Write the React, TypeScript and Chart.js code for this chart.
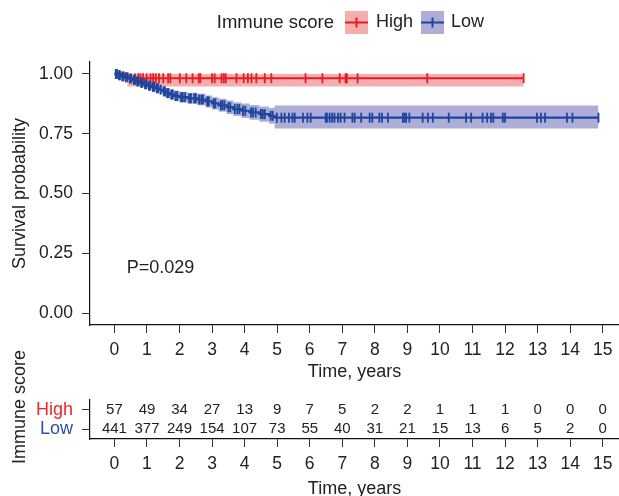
import React, { useEffect, useRef } from 'react';
import { Chart, registerables } from 'chart.js';
Chart.register(...registerables);

const FONT = '"Liberation Sans", Arial, Helvetica, sans-serif';
const TEXT = '#222222';
const RED = 'rgb(228,30,36)';
const BLUE = 'rgb(30,70,158)';
const RED_BAND = 'rgba(232,40,45,0.38)';
const BLUE_BAND = 'rgba(40,40,150,0.38)';
const RED_LABEL = 'rgb(232,38,44)';
const BLUE_LABEL = 'rgb(40,82,170)';

// ---- data ----
const timeTicks = [0, 1, 2, 3, 4, 5, 6, 7, 8, 9, 10, 11, 12, 13, 14, 15];
const survTicks = [0, 0.25, 0.5, 0.75, 1];
const groups = ['High', 'Low'];
const highRisk = [57, 49, 34, 27, 13, 9, 7, 5, 2, 2, 1, 1, 1, 0, 0, 0];
const lowRisk = [441, 377, 249, 154, 107, 73, 55, 40, 31, 21, 15, 13, 6, 5, 2, 0];

const highTimes = [0, 0.4, 12.57];
const highSurv = [1, 0.982, 0.982];
const highLower = [1, 0.948, 0.948];
const highUpper = [1, 1, 1];
const highCensor = [0.63, 0.73, 0.8, 0.88, 0.99, 1.11, 1.19, 1.27, 1.37, 1.5, 1.65, 1.72, 2.01, 2.21, 2.4, 2.59, 2.64, 3.0, 3.08, 3.29, 3.36, 3.42, 3.75, 3.97, 4.1, 4.21, 4.36, 4.62, 4.82, 5.87, 6.39, 6.92, 7.1, 7.14, 7.47, 9.61, 12.57];

const lowTimes = [0, 0.1, 0.2, 0.32, 0.45, 0.55, 0.66, 0.78, 0.9, 1.02, 1.14, 1.26, 1.38, 1.48, 1.58, 1.7, 1.84, 2.0, 2.25, 2.55, 2.8, 3.0, 3.2, 3.45, 3.65, 3.9, 4.15, 4.45, 4.75, 4.92, 14.87];
const lowSurv = [1, 0.995, 0.99, 0.986, 0.981, 0.975, 0.969, 0.963, 0.957, 0.951, 0.946, 0.94, 0.934, 0.927, 0.92, 0.914, 0.908, 0.903, 0.898, 0.893, 0.885, 0.877, 0.869, 0.861, 0.853, 0.846, 0.839, 0.832, 0.825, 0.817, 0.817];
const lowLower = [1, 0.99, 0.984, 0.977, 0.971, 0.964, 0.957, 0.95, 0.943, 0.936, 0.93, 0.923, 0.916, 0.908, 0.9, 0.893, 0.886, 0.881, 0.875, 0.869, 0.86, 0.851, 0.842, 0.833, 0.824, 0.816, 0.808, 0.8, 0.792, 0.772, 0.772];
const lowUpper = [1, 1, 0.998, 0.995, 0.991, 0.986, 0.981, 0.976, 0.971, 0.966, 0.962, 0.957, 0.952, 0.946, 0.94, 0.935, 0.93, 0.926, 0.921, 0.917, 0.91, 0.903, 0.896, 0.889, 0.882, 0.876, 0.87, 0.864, 0.858, 0.868, 0.868];
const lowCensor = [0.04, 0.08, 0.14, 0.17, 0.24, 0.28, 0.35, 0.4, 0.48, 0.52, 0.6, 0.63, 0.7, 0.74, 0.82, 0.86, 0.94, 0.98, 1.06, 1.1, 1.18, 1.22, 1.3, 1.34, 1.42, 1.52, 1.55, 1.62, 1.66, 1.75, 1.79, 1.88, 1.93, 2.05, 2.1, 2.17, 2.3, 2.35, 2.45, 2.5, 2.6, 2.67, 2.72, 2.85, 2.9, 3.05, 3.1, 3.27, 3.32, 3.38, 3.5, 3.56, 3.7, 3.78, 3.84, 3.95, 4.02, 4.2, 4.26, 4.34, 4.5, 4.56, 4.62, 4.8, 4.86, 4.99, 5.13, 5.23, 5.36, 5.47, 5.54, 5.79, 5.93, 6.03, 6.49, 6.53, 6.61, 6.69, 6.76, 6.87, 6.95, 7.07, 7.31, 7.38, 7.58, 7.84, 7.92, 8.14, 8.22, 8.4, 8.86, 8.91, 8.96, 9.06, 9.47, 9.63, 9.78, 10.27, 10.8, 10.96, 11.31, 11.45, 11.57, 11.64, 11.93, 12.0, 12.98, 13.1, 13.23, 13.9, 14.07, 14.87];

const pValueText = 'P=0.029';
const legendTitle = 'Immune score';
const xTitle = 'Time, years';
const yTitle = 'Survival probability';

// ---- helpers ----
const pts = (xs: number[], ys: number[]) => xs.map((x, i) => ({ x, y: ys[i] }));
const survAt = (times: number[], surv: number[], t: number) => {
  let v = surv[0];
  for (let i = 0; i < times.length; i++) if (times[i] <= t) v = surv[i];
  return v;
};
const censorPts = (c: number[], times: number[], surv: number[]) => c.map((t) => ({ x: t, y: survAt(times, surv, t) }));

const X_MIN = -0.75;
const X_MAX = 15.5;

const xScaleBase = (height: number, titlePadBottom: number) => ({
  type: 'linear',
  min: X_MIN,
  max: X_MAX,
  afterBuildTicks: (s: any) => { s.ticks = timeTicks.map((v) => ({ value: v })); },
  afterFit: (s: any) => { s.height = height; s.paddingLeft = 0; s.paddingRight = 0; },
  ticks: { autoSkip: false, maxRotation: 0, padding: 7, color: TEXT, font: { family: FONT, size: 17.5 }, callback: (v: any) => String(v) },
  grid: { drawOnChartArea: false, drawTicks: true, tickLength: 8, color: '#333', tickColor: '#333', lineWidth: 1 },
  border: { display: true, color: '#111', width: 1.2 },
  title: { display: true, text: xTitle, color: TEXT, font: { family: FONT, size: 18 }, padding: { top: 0, bottom: titlePadBottom } },
});

const legendPlugin = {
  id: 'kmLegend',
  afterDraw(chart: any) {
    const ctx = chart.ctx;
    ctx.save();
    ctx.textBaseline = 'middle';
    const cy = 22.5;
    ctx.font = `18.5px ${FONT}`;
    ctx.fillStyle = TEXT;
    ctx.textAlign = 'right';
    ctx.fillText(legendTitle, 334, cy);
    ctx.textAlign = 'left';
    ctx.font = `18px ${FONT}`;
    const items = [
      { label: groups[0], band: RED_BAND, line: RED, bx: 345, tx: 376 },
      { label: groups[1], band: BLUE_BAND, line: BLUE, bx: 421, tx: 451 },
    ];
    for (const it of items) {
      ctx.fillStyle = it.band;
      ctx.fillRect(it.bx, 11, 23, 23);
      ctx.strokeStyle = it.line;
      ctx.lineWidth = 2;
      ctx.beginPath();
      ctx.moveTo(it.bx, cy);
      ctx.lineTo(it.bx + 23, cy);
      ctx.moveTo(it.bx + 11.5, cy - 5);
      ctx.lineTo(it.bx + 11.5, cy + 5);
      ctx.stroke();
      ctx.fillStyle = TEXT;
      ctx.fillText(it.label, it.tx, cy);
    }
    // p-value
    const xs = chart.scales.x, ys = chart.scales.y;
    ctx.font = `18px ${FONT}`;
    ctx.fillText(pValueText, xs.getPixelForValue(0.38), ys.getPixelForValue(0.19));
    ctx.restore();
  },
};

const tablePlugin = {
  id: 'riskTable',
  afterDraw(chart: any) {
    const ctx = chart.ctx;
    const xs = chart.scales.x, ys = chart.scales.y;
    ctx.save();
    ctx.font = `15px ${FONT}`;
    ctx.fillStyle = TEXT;
    ctx.textAlign = 'center';
    ctx.textBaseline = 'middle';
    const rows = [highRisk, lowRisk];
    rows.forEach((row, r) => {
      const y = ys.getPixelForValue(r);
      row.forEach((n, i) => ctx.fillText(String(n), xs.getPixelForValue(timeTicks[i]), y));
    });
    ctx.translate(20, 77);
    ctx.rotate(-Math.PI / 2);
    ctx.font = `18px ${FONT}`;
    ctx.fillText(legendTitle, 0, 0);
    ctx.restore();
  },
};

export default function App() {
  const mainRef = useRef<HTMLCanvasElement>(null);
  const tableRef = useRef<HTMLCanvasElement>(null);

  useEffect(() => {
    const line = (data: any, color: string, order: number) => ({
      data, borderColor: color, borderWidth: 2.2, pointRadius: 0, stepped: 'before', fill: false, order,
    });
    const censor = (data: any, color: string, order: number) => ({
      data, borderColor: color, backgroundColor: color, showLine: false, pointStyle: 'line', rotation: 90,
      pointRadius: 5, pointBorderWidth: 1.8, pointHoverRadius: 5, order,
    });
    const band = (data: any, color: string, fillTarget: any, order: number) => ({
      data, borderWidth: 0, borderColor: 'rgba(0,0,0,0)', backgroundColor: color, pointRadius: 0, stepped: 'before', fill: fillTarget, order,
    });

    const main = new Chart(mainRef.current!, {
      type: 'line',
      data: {
        datasets: [
          censor(censorPts(lowCensor, lowTimes, lowSurv), BLUE, 0),
          line(pts(lowTimes, lowSurv), BLUE, 1),
          censor(censorPts(highCensor, highTimes, highSurv), RED, 2),
          line(pts(highTimes, highSurv), RED, 3),
          band(pts(lowTimes, lowUpper), BLUE_BAND, 5, 4),
          band(pts(lowTimes, lowLower), BLUE_BAND, false, 5),
          band(pts(highTimes, highUpper), RED_BAND, 7, 6),
          band(pts(highTimes, highLower), RED_BAND, false, 7),
        ] as any,
      },
      options: {
        responsive: false,
        animation: false,
        layout: { autoPadding: false, padding: { top: 62, left: 0, right: 0, bottom: 0 } },
        plugins: { legend: { display: false }, tooltip: { enabled: false } },
        scales: {
          x: xScaleBase(60, 2.2) as any,
          y: {
            type: 'linear',
            min: -0.05,
            max: 1.05,
            afterBuildTicks: (s: any) => { s.ticks = survTicks.map((v) => ({ value: v })); },
            afterFit: (s: any) => { s.width = 90; },
            ticks: { padding: 9, color: TEXT, font: { family: FONT, size: 17.5 }, callback: (v: any) => Number(v).toFixed(2) },
            grid: { drawOnChartArea: false, drawTicks: true, tickLength: 8, color: '#333', tickColor: '#333' },
            border: { display: true, color: '#111', width: 1.2 },
            title: { display: true, text: yTitle, color: TEXT, font: { family: FONT, size: 18 }, padding: { top: 9, bottom: 0 } },
          } as any,
        },
      },
      plugins: [legendPlugin],
    });

    const table = new Chart(tableRef.current!, {
      type: 'line',
      data: { datasets: [] },
      options: {
        responsive: false,
        animation: false,
        layout: { autoPadding: false, padding: { top: 70, left: 0, right: 0, bottom: 0 } },
        plugins: { legend: { display: false }, tooltip: { enabled: false } },
        scales: {
          x: xScaleBase(66, 5.2) as any,
          y: {
            type: 'category',
            labels: groups,
            offset: true,
            afterFit: (s: any) => { s.width = 90; },
            ticks: {
              autoSkip: false,
              padding: 9,
              color: (c: any) => (c.index === 0 ? RED_LABEL : BLUE_LABEL),
              font: { family: FONT, size: 18 },
            },
            grid: { offset: false, drawOnChartArea: false, drawTicks: true, tickLength: 8, color: '#333', tickColor: '#333' },
            border: { display: true, color: '#111', width: 1.2 },
            title: { display: false },
          } as any,
        },
      },
      plugins: [tablePlugin],
    });

    return () => { main.destroy(); table.destroy(); };
  }, []);

  return (
    <div style={{ position: 'absolute', left: 0, top: 0, width: 619, height: 496, overflow: 'hidden', background: '#fff' }}>
      <canvas ref={mainRef} width={619} height={385} style={{ position: 'absolute', left: 0, top: 0, display: 'block' }} />
      <canvas ref={tableRef} width={619} height={175} style={{ position: 'absolute', left: 0, top: 330, display: 'block' }} />
    </div>
  );
}
